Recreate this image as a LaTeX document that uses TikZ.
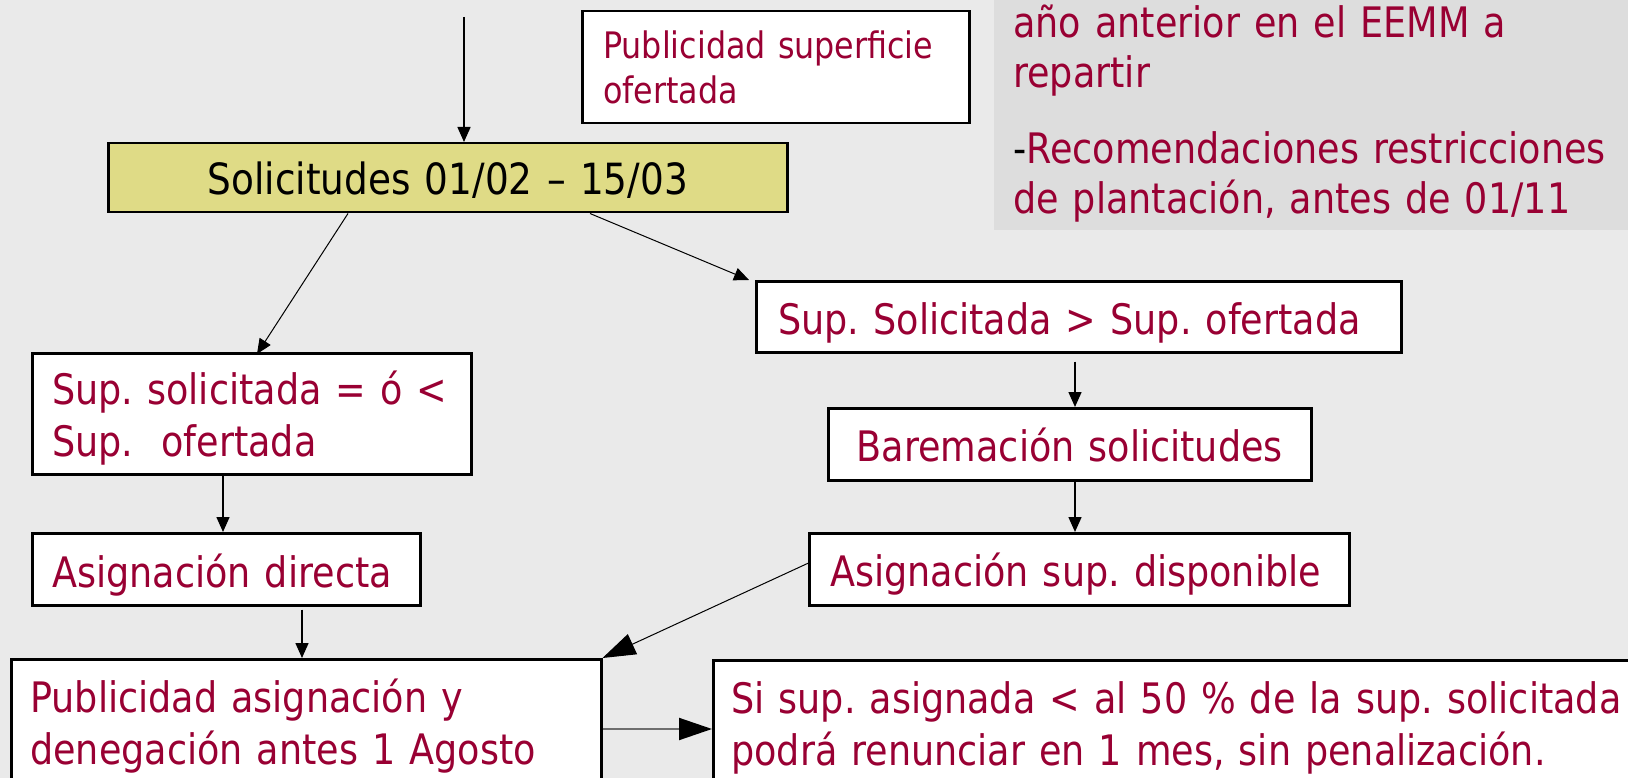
\documentclass[tikz,border=0pt]{standalone}
\usepackage{fontspec}
\setmainfont[FakeStretch=0.87]{DejaVu Sans}
\usetikzlibrary{arrows.meta,calc}
\definecolor{bg}{HTML}{EAEAEA}
\definecolor{panelgray}{HTML}{DDDDDD}
\definecolor{wine}{HTML}{990033}
\definecolor{solfill}{HTML}{DFDB86}
\definecolor{conn}{HTML}{6E6E6E}
\newcommand{\nb}[1]{\mbox{#1}}
\frenchspacing
\begin{document}
\begin{tikzpicture}[x=1pt,y=-1pt,
  box/.style={draw=black, line width=2.5pt, fill=white, anchor=north west,
    inner ysep=0pt, text=wine, font=\fontsize{42}{52}\selectfont, align=left},
  arr/.style={-{Triangle[length=15pt,width=13pt]}, line width=1.5pt},
  thinarr/.style={-{Triangle[length=15pt,width=13pt]}, line width=1pt},
  bigarr/.style={-{Triangle[length=33pt,width=22pt,color=black]}, line width=1pt},
]
\fill[bg] (0,0) rectangle (1628,778);
\useasboundingbox (0,0) rectangle (1628,778);

% grey note panel (top right)
\node[anchor=north west, fill=panelgray, inner ysep=0pt, inner xsep=19pt,
  text width=622pt, text height=37pt, text depth=193pt, align=left,
  text=wine, font=\fontsize{42}{50}\selectfont] (panel) at (994,0)
  {\nb{año anterior en el EEMM a}\\\nb{repartir}\\[26pt]%
   \nb{\textcolor{black}{-}Recomendaciones restricciones}\\\nb{de plantación, antes de 01/11}};

% boxes
\node[box, inner xsep=21pt, text width=345pt, text height=47pt, text depth=65pt,
  font=\fontsize{36.5}{45}\selectfont] (pub1) at (581,10)
  {\nb{Publicidad superficie}\\\nb{ofertada}};
\node[box, fill=solfill, text=black, align=center, inner xsep=10pt, text width=659pt,
  text height=51pt, text depth=18pt, font=\fontsize{43}{52}\selectfont] (sol) at (107,142)
  {\nb{Solicitudes 01/02 – 15/03}};
\node[box, inner xsep=22pt, text width=601pt, text height=53pt, text depth=18pt] (ssol) at (755,280)
  {\nb{Sup. Solicitada > Sup. ofertada}};
\node[box, inner xsep=20pt, text width=399pt, text height=51pt, text depth=70pt] (seq) at (31,352)
  {\nb{Sup. solicitada = ó <}\\\nb{Sup.\ \ ofertada}};
\node[box, inner xsep=20pt, text width=348pt, text height=54pt, text depth=18pt] (adir) at (31,532)
  {\nb{Asignación directa}};
\node[box, align=center, inner xsep=10pt, text width=463pt, text height=53pt, text depth=19pt] (bar) at (827,407)
  {\nb{Baremación solicitudes}};
\node[box, inner xsep=21pt, text width=498pt, text height=53pt, text depth=19pt] (asd) at (808,532)
  {\nb{Asignación sup. disponible}};
\node[box, inner xsep=19pt, text width=552pt, text height=53pt, text depth=89pt] (pubasig) at (10,658)
  {\nb{Publicidad asignación y}\\\nb{denegación antes 1 Agosto}};
\node[box, inner xsep=18pt, text width=914pt, text height=53pt, text depth=89pt] (si) at (712,659)
  {\nb{Si sup. asignada < al 50 \% de la sup. solicitada}\\\nb{podrá renunciar en 1 mes, sin penalización.}};

% connectors
\coordinate (topin) at (464,17);
\draw[arr] (topin) -- (topin |- sol.north);
\draw[thinarr] ([xshift=241pt]sol.south west) -- ([xshift=226pt,yshift=-2pt]seq.north west);
\draw[thinarr] ([xshift=483pt]sol.south west) -- ([xshift=-6pt]ssol.north west);
\coordinate (c1) at ([xshift=248pt]bar.north west);
\draw[arr] ($(c1 |- ssol.south)+(0,8)$) -- (c1);
\draw[arr] (c1 |- bar.south) -- (c1 |- asd.north);
\coordinate (c3) at ([xshift=192pt]seq.south west);
\draw[arr] (c3) -- (c3 |- adir.north);
\coordinate (c2) at ([xshift=271pt]adir.south west);
\draw[arr] ($(c2)+(0,3)$) -- (c2 |- pubasig.north);
\draw[bigarr] ([yshift=6pt]asd.west) -- (pubasig.north east);
\coordinate (c4) at ([yshift=-71pt]pubasig.north east);
\draw[bigarr, draw=conn, line width=2pt] (c4) -- (c4 -| si.west);
\end{tikzpicture}
\end{document}
